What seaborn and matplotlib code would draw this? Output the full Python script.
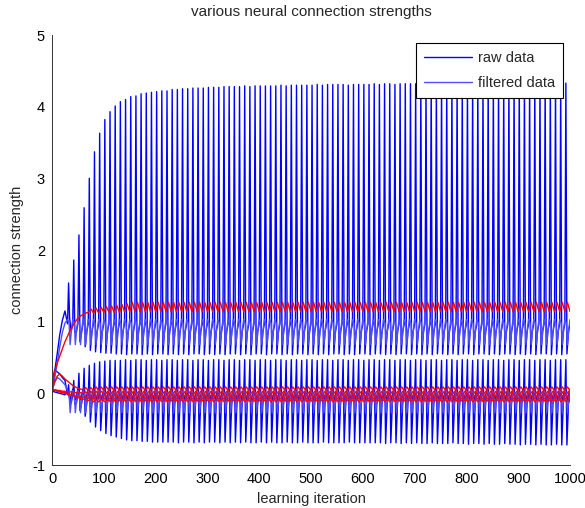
import numpy as np
import pandas as pd
import matplotlib
matplotlib.use("Agg")
import matplotlib.pyplot as plt
from matplotlib.lines import Line2D
import seaborn as sns

PERIOD = 10      # oscillation period in iterations
END = 1000

# ---- transient before the oscillation (iterations 0..25) ----
onset_iter = [0, 5, 10, 15, 20, 25]
raw_hi_onset = [0.03, 0.30, 0.55, 0.82, 1.02, 1.15]
raw_lo_onset = [0.03, 0.33, 0.30, 0.27, 0.22, 0.18]
raw_z_onset = [0.03, 0.02, 0.01, 0.00, -0.01, -0.02]
filt_hi_onset = [0.03, 0.20, 0.42, 0.65, 0.85, 0.98]
filt_lo_onset = [0.03, 0.15, 0.22, 0.20, 0.16, 0.12]

# ---- per-cycle envelopes, cycles starting at iteration 30, 40, ..., 990 ----
raw_hi_peak = [
    1.54, 1.86, 2.21, 2.59, 3.00, 3.37, 3.63, 3.82, 3.93, 4.01,
    4.07, 4.10, 4.14, 4.15, 4.18, 4.19, 4.20, 4.21, 4.22, 4.22,
    4.24, 4.24, 4.25, 4.25, 4.26, 4.26, 4.26, 4.27, 4.27, 4.27,
    4.28, 4.28, 4.28, 4.28, 4.29, 4.28, 4.29, 4.29, 4.29, 4.29,
    4.29, 4.30, 4.29, 4.30, 4.30, 4.30, 4.30, 4.30, 4.31, 4.30,
    4.31, 4.31, 4.31, 4.31, 4.30, 4.31, 4.31, 4.31, 4.31, 4.32,
    4.31, 4.32, 4.32, 4.31, 4.32, 4.32, 4.32, 4.32, 4.32, 4.32,
    4.32, 4.32, 4.33, 4.32, 4.32, 4.33, 4.32, 4.33, 4.33, 4.32,
    4.33, 4.33, 4.33, 4.32, 4.33, 4.33, 4.33, 4.33, 4.33, 4.33,
    4.33, 4.33, 4.33, 4.33, 4.33, 4.33, 4.33,
]
raw_hi_dip = [
    1.05, 0.85, 0.72, 0.65, 0.60, 0.58, 0.57, 0.56, 0.56, 0.55,
    0.55, 0.54, 0.55, 0.55, 0.54, 0.55, 0.54, 0.55, 0.55, 0.54,
    0.55, 0.54, 0.55, 0.54, 0.55, 0.55, 0.54, 0.55, 0.54, 0.55,
    0.54, 0.55, 0.55, 0.54, 0.55, 0.54, 0.55, 0.55, 0.54, 0.55,
    0.55, 0.54, 0.55, 0.54, 0.55, 0.55, 0.54, 0.55, 0.54, 0.55,
    0.54, 0.55, 0.55, 0.54, 0.55, 0.54, 0.55, 0.55, 0.54, 0.55,
    0.55, 0.54, 0.55, 0.54, 0.55, 0.55, 0.54, 0.55, 0.54, 0.55,
    0.54, 0.55, 0.55, 0.54, 0.55, 0.54, 0.55, 0.55, 0.54, 0.55,
    0.55, 0.54, 0.55, 0.54, 0.55, 0.55, 0.54, 0.55, 0.54, 0.55,
    0.54, 0.55, 0.55, 0.54, 0.55, 0.54, 0.55,
]
raw_lo_peak = [
    0.12, 0.18, 0.28, 0.35, 0.39, 0.42, 0.44, 0.45, 0.46, 0.46,
    0.46, 0.47, 0.46, 0.47, 0.47, 0.46, 0.47, 0.47, 0.46, 0.47,
    0.47, 0.46, 0.47, 0.47, 0.46, 0.47, 0.47, 0.46, 0.47, 0.47,
    0.46, 0.47, 0.47, 0.46, 0.47, 0.47, 0.46, 0.47, 0.47, 0.46,
    0.47, 0.47, 0.46, 0.47, 0.47, 0.46, 0.47, 0.47, 0.46, 0.47,
    0.47, 0.46, 0.47, 0.47, 0.46, 0.47, 0.47, 0.46, 0.47, 0.47,
    0.46, 0.47, 0.47, 0.46, 0.47, 0.47, 0.46, 0.47, 0.47, 0.46,
    0.47, 0.47, 0.46, 0.47, 0.47, 0.46, 0.47, 0.47, 0.46, 0.47,
    0.47, 0.46, 0.47, 0.47, 0.46, 0.47, 0.47, 0.46, 0.47, 0.47,
    0.46, 0.47, 0.47, 0.46, 0.47, 0.47, 0.47,
]
raw_lo_dip = [
    -0.08, -0.15, -0.24, -0.32, -0.40, -0.47, -0.52, -0.56, -0.59, -0.61,
    -0.63, -0.65, -0.66, -0.66, -0.67, -0.67, -0.68, -0.68, -0.68, -0.68,
    -0.68, -0.69, -0.68, -0.68, -0.69, -0.68, -0.69, -0.68, -0.68, -0.69,
    -0.68, -0.69, -0.68, -0.69, -0.68, -0.69, -0.69, -0.68, -0.69, -0.68,
    -0.69, -0.69, -0.68, -0.69, -0.69, -0.68, -0.69, -0.69, -0.69, -0.68,
    -0.69, -0.69, -0.69, -0.69, -0.68, -0.69, -0.69, -0.69, -0.69, -0.69,
    -0.69, -0.70, -0.69, -0.69, -0.70, -0.69, -0.70, -0.69, -0.70, -0.70,
    -0.69, -0.70, -0.70, -0.70, -0.69, -0.70, -0.70, -0.71, -0.70, -0.70,
    -0.71, -0.70, -0.71, -0.71, -0.70, -0.71, -0.71, -0.72, -0.71, -0.71,
    -0.72, -0.71, -0.72, -0.72, -0.71, -0.72, -0.72,
]

# ---- red traces: early part every 5 iterations, then steady saw-tooth ----
red_hi_onset = [
    0.10, 0.30, 0.42, 0.52, 0.62, 0.72, 0.80, 0.88, 0.94, 1.00,
    1.05, 1.08, 1.10, 1.12, 1.13, 1.18, 1.12, 1.19, 1.12, 1.20,
    1.13, 1.21, 1.13, 1.22, 1.13, 1.23, 1.13, 1.24, 1.14, 1.25,
]
red_hi_cycle = [1.14, 1.27]
red_z1_onset = [0.05, 0.16, 0.24, 0.27, 0.24, 0.20, 0.17, 0.14, 0.11, 0.09,
                0.07, 0.06, 0.05, 0.08, 0.04, 0.08, 0.04, 0.09, 0.04, 0.09]
red_z2_onset = [0.05, 0.05, 0.04, 0.04, 0.03, 0.03, 0.02, 0.02, 0.02, 0.01,
                0.01, 0.01, 0.00, 0.02, -0.01, 0.03, -0.02, 0.03, -0.02, 0.03]
red_z3_onset = [0.05, 0.04, 0.03, 0.02, 0.01, 0.00, -0.01, -0.02, -0.03, -0.04,
                -0.05, -0.05, -0.06, -0.04, -0.07, -0.03, -0.08, -0.03, -0.08, -0.03]
red_z4_onset = [0.06, 0.05, 0.04, 0.03, 0.02, 0.01, 0.00, -0.02, -0.03, -0.05,
                -0.06, -0.07, -0.08, -0.09, -0.10, -0.08, -0.12, -0.08, -0.12, -0.08]
red_z1_cycle = [0.04, 0.09]
red_z2_cycle = [-0.03, 0.03]
red_z3_cycle = [-0.08, -0.03]
red_z4_cycle = [-0.12, -0.08]

# steady shapes of the other blue traces within one period
raw_hi_rest, raw_hi_back = 0.97, 0.86
raw_lo_rest, raw_lo_back = -0.02, -0.14
raw_z_cycle = [0.06, -0.09]
filt_hi_cycle = [1.03, 0.98, 0.68, 0.92]
filt_lo_cycle = [0.04, 0.00, -0.27, -0.06]

RAW_C = "#0000ff"
FILT_C = "#4d4dff"
RED_C = "#ff0000"
FS = 10.5


def trace(onset_x, onset_y, start, offsets, values):
    """onset points, then one zig-zag per PERIOD from `start` to END.
    values: one entry per offset, a number or a per-cycle list."""
    xs, ys = list(onset_x), list(onset_y)
    for i, c in enumerate(range(start, END, PERIOD)):
        for off, v in zip(offsets, values):
            xs.append(c + off)
            ys.append(v[i] if isinstance(v, list) else v)
    xs.append(END)
    ys.append(ys[-len(offsets)])
    return xs, ys


series = {
    "raw_hi": (RAW_C, trace(onset_iter, raw_hi_onset, 30, [0, 2, 4, 7],
                            [raw_hi_rest, raw_hi_peak, raw_hi_dip, raw_hi_back])),
    "raw_lo": (RAW_C, trace(onset_iter, raw_lo_onset, 30, [0, 2, 4, 7],
                            [raw_lo_rest, raw_lo_peak, raw_lo_dip, raw_lo_back])),
    "raw_z": (RAW_C, trace(onset_iter, raw_z_onset, 30, [0, 5], raw_z_cycle)),
    "filt_hi": (FILT_C, trace(onset_iter, filt_hi_onset, 30, [0, 3, 5, 8], filt_hi_cycle)),
    "filt_lo": (FILT_C, trace(onset_iter, filt_lo_onset, 30, [0, 3, 5, 8], filt_lo_cycle)),
    "red_hi": (RED_C, trace(range(0, 150, 5), red_hi_onset, 150, [0, 5], red_hi_cycle)),
    "red_z1": (RED_C, trace(range(0, 100, 5), red_z1_onset, 100, [0, 5], red_z1_cycle)),
    "red_z2": (RED_C, trace(range(0, 100, 5), red_z2_onset, 100, [2, 7], red_z2_cycle)),
    "red_z3": (RED_C, trace(range(0, 100, 5), red_z3_onset, 100, [1, 6], red_z3_cycle)),
    "red_z4": (RED_C, trace(range(0, 100, 5), red_z4_onset, 100, [3, 8], red_z4_cycle)),
}

frames = []
for name, (color, (xs, ys)) in series.items():
    frames.append(pd.DataFrame({"iteration": xs, "strength": ys, "series": name}))
df = pd.concat(frames, ignore_index=True)
palette = {name: color for name, (color, _) in series.items()}

sns.set_theme(style="white")
plt.rcParams["font.family"] = ["Liberation Sans", "DejaVu Sans"]
plt.rcParams["axes.unicode_minus"] = False

fig = plt.figure(figsize=(5.85, 5.08), dpi=100)
ax = fig.add_axes([0.0889, 0.0846, 0.8855, 0.8465])

sns.lineplot(data=df, x="iteration", y="strength", hue="series",
             hue_order=list(series.keys()), palette=palette,
             estimator=None, sort=False, legend=False, linewidth=1.0, ax=ax)

ax.set_xlim(0, 1000)
ax.set_ylim(-1, 5)
ax.set_xticks(range(0, 1001, 100))
ax.set_yticks(range(-1, 6))
ax.tick_params(direction="in", length=4, width=0.6, labelsize=FS, colors="black")
ax.tick_params(axis="x", pad=5)
ax.tick_params(axis="y", pad=5)
for side in ["top", "right"]:
    ax.spines[side].set_visible(False)
for side in ["left", "bottom"]:
    ax.spines[side].set_color("#333333")
    ax.spines[side].set_linewidth(0.7)

ax.set_title("various neural connection strengths", fontsize=11, pad=14)
ax.set_xlabel("learning iteration", fontsize=FS, labelpad=4)
ax.set_ylabel("connection strength", fontsize=FS, labelpad=6)

handles = [Line2D([], [], color=RAW_C, lw=1.0), Line2D([], [], color=FILT_C, lw=1.0)]
leg = ax.legend(handles, ["raw data", "filtered data"], loc="upper right",
                bbox_to_anchor=(0.9865, 0.9814), borderaxespad=0, fontsize=FS,
                frameon=True, fancybox=False, framealpha=1, edgecolor="black",
                handlelength=3.3, handletextpad=0.4, borderpad=0.55, labelspacing=0.75)
leg.get_frame().set_linewidth(0.8)

fig.savefig("out.png", dpi=100)
